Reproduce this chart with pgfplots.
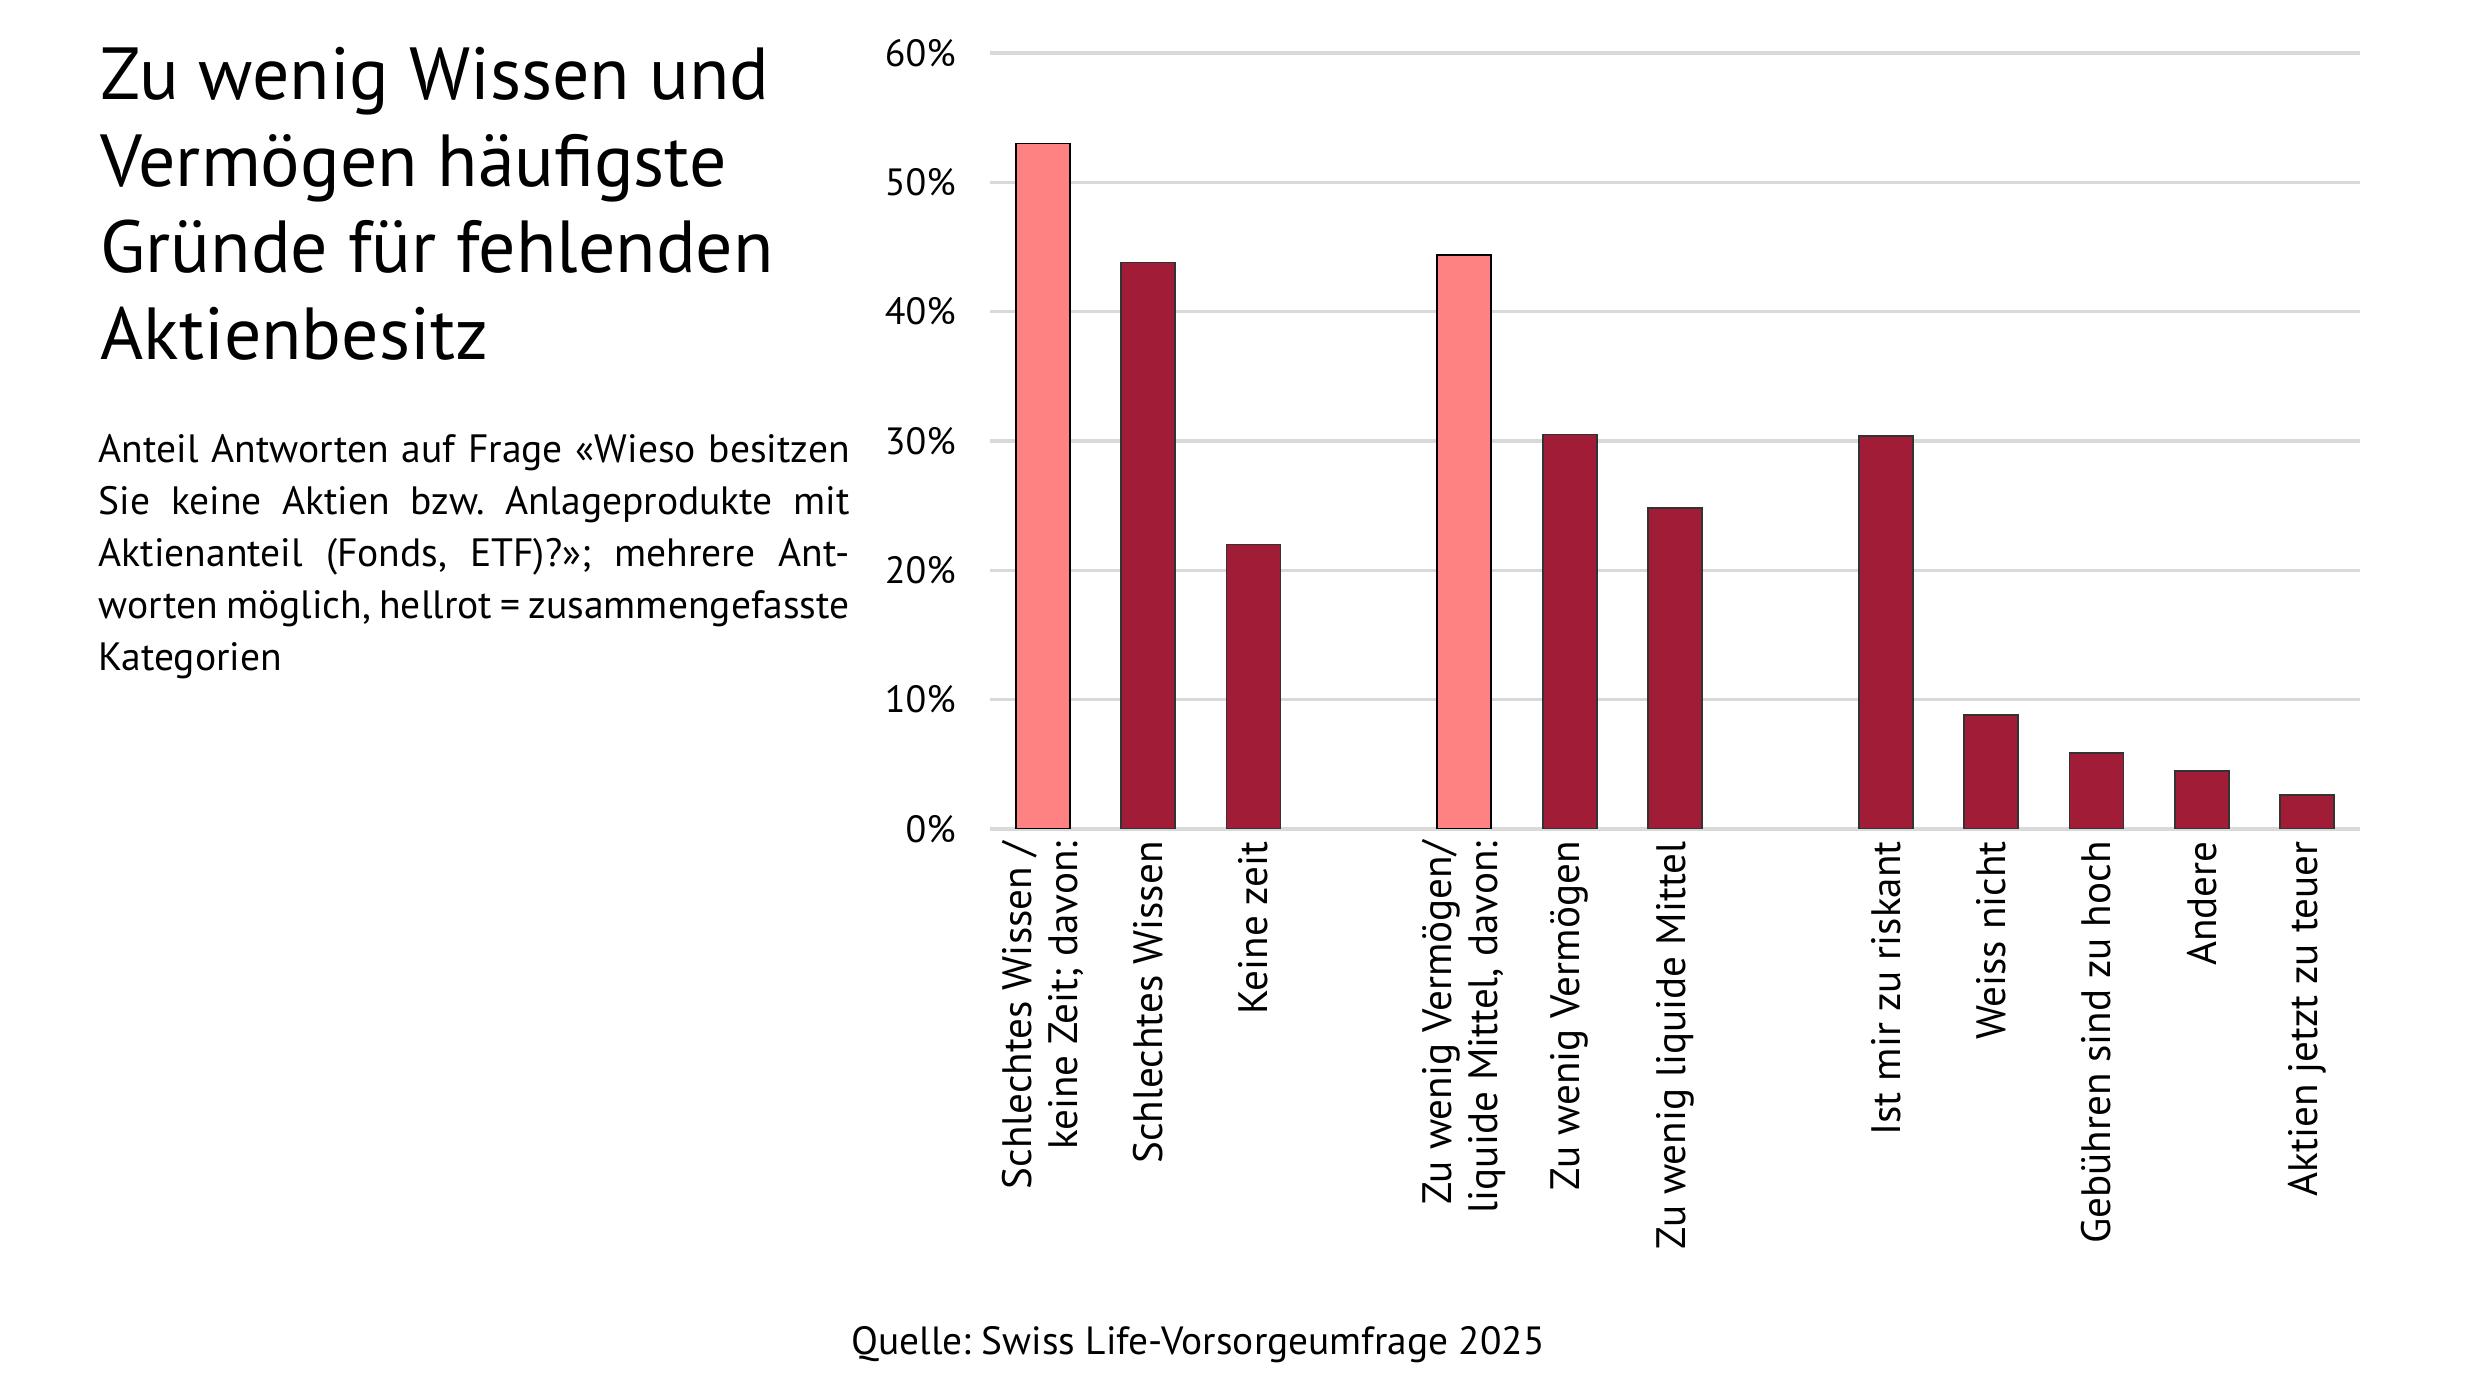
\documentclass[border=0pt]{standalone}
\usepackage{fontspec}
\setmainfont{PT Sans}
\usepackage{pgfplots}
\pgfplotsset{compat=1.18}
\definecolor{lightred}{HTML}{FF8282}
\definecolor{darkred}{HTML}{A01C37}
\definecolor{gridgray}{HTML}{D9D9D9}
\frenchspacing

\begin{document}
\begin{tikzpicture}
\path[use as bounding box] (0,0) rectangle (24.8,13.95);

% title, one node per line
\begin{scope}[every node/.style={anchor=base west, inner sep=0pt, font=\fontsize{21}{25}\selectfont}]
\node at (1.00,12.954) {Zu wenig Wissen und};
\node at (1.00,12.089) {Vermögen häufigste};
\node at (1.00,11.224) {Gründe für fehlenden};
\node at (1.00,10.359) {Aktienbesitz};
\end{scope}

% subtitle, justified lines
\begin{scope}[every node/.style={anchor=base west, inner sep=0pt, font=\fontsize{11.25}{14}\selectfont}]
\node at (0.98,9.320) {\makebox[7.51cm][s]{Anteil Antworten auf Frage «Wieso besitzen}};
\node at (0.98,8.802) {\makebox[7.51cm][s]{Sie keine Aktien bzw. Anlageprodukte mit}};
\node at (0.98,8.284) {\makebox[7.51cm][s]{Aktienanteil (Fonds, ETF)?»; mehrere Ant-}};
\node at (0.98,7.766) {\makebox[7.51cm][s]{worten möglich, hellrot = zusammengefasste}};
\node at (0.98,7.248) {Kategorien};
\end{scope}

% source
\node[anchor=base, inner sep=0pt, font=\fontsize{11.2}{14}\selectfont] at (11.98,0.40) {Quelle: Swiss Life-Vorsorgeumfrage 2025};

\begin{axis}[
  at={(9.90cm,5.66cm)}, anchor=south west,
  scale only axis, width=13.70cm, height=7.76cm,
  xmin=-0.5, xmax=12.5, ymin=0, ymax=60,
  axis line style={draw=none}, tick style={draw=none},
  ymajorgrids, grid style={color=gridgray, line width=0.9pt},
  ytick={0,10,...,60},
  yticklabel={\pgfmathprintnumber{\tick}\%},
  yticklabel style={font=\fontsize{10.8}{12}\selectfont, xshift=-0.22cm},
  /pgf/number format/assume math mode=true,
  xtick={0,1,2,4,5,6,8,9,10,11,12},
  xticklabels={{Schlechtes Wissen /\\keine Zeit; davon:}, Schlechtes Wissen, Keine zeit,
    {Zu wenig Vermögen/\\liquide Mittel, davon:}, Zu wenig Vermögen, Zu wenig liquide Mittel,
    Ist mir zu riskant, Weiss nicht, Gebühren sind zu hoch, Andere, Aktien jetzt zu teuer},
  xticklabel style={rotate=90, anchor=east, align=right,
    font=\fontsize{11.7}{13}\selectfont, yshift=0cm},
  bar width=0.54cm,
]
\addplot[ybar, bar shift=0pt, fill=lightred, draw=black, line width=0.5pt]
  coordinates {(0,53.0) (4,44.4)};
\addplot[ybar, bar shift=0pt, fill=darkred, draw=black!80, line width=0.5pt]
  coordinates {(1,43.8) (2,22.0) (5,30.5) (6,24.8) (8,30.4) (9,8.8) (10,5.9) (11,4.5) (12,2.6)};
\end{axis}
\end{tikzpicture}
\end{document}
